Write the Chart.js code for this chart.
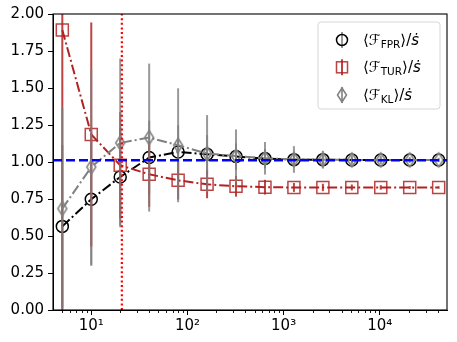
<!DOCTYPE html>
<html><head><meta charset="utf-8">
<script src="https://cdn.jsdelivr.net/npm/chart.js@4.4.0/dist/chart.umd.min.js"></script>
<style>html,body{margin:0;padding:0;background:#fff;} #wrap{width:457px;height:342px;}</style>
</head><body><div id="wrap"><canvas id="c" width="457" height="342"></canvas></div>
<script>
// ---- data ----
const xValues   = [5, 10, 20, 40, 80, 160, 320, 640, 1280, 2560, 5120, 10240, 20480, 40960];
const fprValues = [0.565, 0.748, 0.899, 1.030, 1.068, 1.052, 1.037, 1.023, 1.016, 1.016, 1.014, 1.014, 1.014, 1.014];
const fprErr    = [0.55, 0.45, 0.33, 0.25, 0.18, 0.13, 0.09, 0.065, 0.045, 0.032, 0.022, 0.016, 0.011, 0.008];
const turValues = [1.892, 1.186, 0.978, 0.917, 0.876, 0.849, 0.836, 0.830, 0.828, 0.828, 0.828, 0.828, 0.828, 0.828];
const turErr    = [1.90, 0.757, 0.36, 0.22, 0.13, 0.094, 0.07, 0.05, 0.03, 0.025, 0.02, 0.015, 0.01, 0.008];
const klValues  = [0.685, 0.966, 1.129, 1.165, 1.113, 1.057, 1.040, 1.025, 1.017, 1.016, 1.014, 1.014, 1.014, 1.014];
const klErr     = [0.68, 0.66, 0.57, 0.50, 0.385, 0.26, 0.18, 0.11, 0.09, 0.06, 0.04, 0.03, 0.02, 0.015];
const xMajorTicks  = [10, 100, 1000, 10000];
const xMajorLabels = ['10¹', '10²', '10³', '10⁴'];
const refLineY = 1.012;
const refLineX = 20.8;
const legendMain = ['⟨ℱ', '⟨ℱ', '⟨ℱ'];
const legendSub  = ['FPR', 'TUR', 'KL'];
const legendTail = ['⟩/', '⟩/', '⟩/'];
const legendRate = ['ṡ', 'ṡ', 'ṡ'];

// ---- styles ----
const FONT = 'DejaVu Sans';
const RED = '#b22222';
const GRAY = '#808080';

function makeThinDiamond(color) {
  const c = document.createElement('canvas');
  c.width = 14; c.height = 18;
  const g = c.getContext('2d');
  g.strokeStyle = color; g.lineWidth = 1.5;
  g.beginPath(); g.moveTo(7, 2); g.lineTo(11.5, 9); g.lineTo(7, 16); g.lineTo(2.5, 9); g.closePath(); g.stroke();
  return c;
}
const diamondImg = makeThinDiamond(GRAY);

const minorTicks = [];
for (let k = 0; k <= 4; k++) for (let m = 2; m <= 9; m++) { const v = m * Math.pow(10, k); if (v > 4 && v < 50000) minorTicks.push(v); }
const allXTicks = minorTicks.concat(xMajorTicks).sort((a, b) => a - b);

const pts = (vals) => xValues.map((x, i) => ({ x: x, y: vals[i] }));

const errPlugin = {
  id: 'errbars',
  beforeDatasetDraw(chart, args) {
    const ds = chart.data.datasets[args.index];
    if (!ds.errors) return;
    const ctx = chart.ctx, a = chart.chartArea, xs = chart.scales.x, ys = chart.scales.y;
    ctx.save();
    ctx.beginPath(); ctx.rect(a.left, a.top, a.right - a.left, a.bottom - a.top); ctx.clip();
    ctx.strokeStyle = ds.errColor; ctx.lineWidth = 2;
    ds.data.forEach((p, i) => {
      const px = xs.getPixelForValue(p.x), e = ds.errors[i];
      ctx.beginPath();
      ctx.moveTo(px, ys.getPixelForValue(p.y - e));
      ctx.lineTo(px, ys.getPixelForValue(p.y + e));
      ctx.stroke();
    });
    ctx.restore();
  }
};

const refPlugin = {
  id: 'reflines',
  afterDatasetsDraw(chart) {
    const ctx = chart.ctx, a = chart.chartArea, xs = chart.scales.x, ys = chart.scales.y;
    ctx.save();
    ctx.beginPath(); ctx.rect(a.left, a.top, a.right - a.left, a.bottom - a.top); ctx.clip();
    const py = ys.getPixelForValue(refLineY);
    ctx.strokeStyle = '#0000ff'; ctx.lineWidth = 2.5; ctx.setLineDash([9, 4]);
    ctx.beginPath(); ctx.moveTo(a.left, py); ctx.lineTo(a.right, py); ctx.stroke();
    const px = xs.getPixelForValue(refLineX);
    ctx.strokeStyle = '#ff0000'; ctx.lineWidth = 2.2; ctx.setLineDash([2, 2.6]);
    ctx.beginPath(); ctx.moveTo(px, a.bottom); ctx.lineTo(px, a.top); ctx.stroke();
    ctx.restore();
  }
};

const framePlugin = {
  id: 'frame',
  afterDraw(chart) {
    const ctx = chart.ctx, a = chart.chartArea, xs = chart.scales.x;
    ctx.save();
    ctx.strokeStyle = '#000'; ctx.lineWidth = 1.1;
    ctx.strokeRect(a.left, a.top, a.right - a.left, a.bottom - a.top);
    ctx.lineWidth = 0.9;
    minorTicks.forEach(v => {
      const px = Math.round(xs.getPixelForValue(v)) + 0.5;
      ctx.beginPath(); ctx.moveTo(px, a.bottom); ctx.lineTo(px, a.bottom + 3); ctx.stroke();
    });
    ctx.restore();
  }
};

const legendPlugin = {
  id: 'customLegend',
  afterDraw(chart) {
    const ctx = chart.ctx;
    const bx = 318, by = 22, bw = 122, bh = 87, r = 3;
    ctx.save();
    ctx.beginPath();
    ctx.moveTo(bx + r, by); ctx.lineTo(bx + bw - r, by); ctx.arcTo(bx + bw, by, bx + bw, by + r, r);
    ctx.lineTo(bx + bw, by + bh - r); ctx.arcTo(bx + bw, by + bh, bx + bw - r, by + bh, r);
    ctx.lineTo(bx + r, by + bh); ctx.arcTo(bx, by + bh, bx, by + bh - r, r);
    ctx.lineTo(bx, by + r); ctx.arcTo(bx, by, bx + r, by, r); ctx.closePath();
    ctx.fillStyle = 'rgba(255,255,255,0.8)'; ctx.fill();
    ctx.strokeStyle = '#d6d6d6'; ctx.lineWidth = 1; ctx.stroke();
    const rows = [40, 67.3, 95];
    const mx = 342;
    rows.forEach((ry, i) => {
      const ds = chart.data.datasets[i];
      ctx.setLineDash([]);
      ctx.strokeStyle = ds.errColor; ctx.lineWidth = 2;
      ctx.beginPath(); ctx.moveTo(mx, ry - 8); ctx.lineTo(mx, ry + 8); ctx.stroke();
      ctx.lineWidth = 1.5;
      if (i === 0) {
        ctx.strokeStyle = '#000'; ctx.beginPath(); ctx.arc(mx, ry, 5.5, 0, Math.PI * 2); ctx.stroke();
      } else if (i === 1) {
        ctx.strokeStyle = 'rgba(178,34,34,0.85)'; ctx.strokeRect(mx - 5.5, ry - 5.5, 11, 11);
      } else {
        ctx.drawImage(diamondImg, mx - 7, ry - 9);
      }
      let tx = 363; const base = ry + 5;
      ctx.fillStyle = '#000'; ctx.textBaseline = 'alphabetic'; ctx.textAlign = 'left';
      ctx.font = '15px "' + FONT + '"'; ctx.fillText(legendMain[i], tx, base); tx += ctx.measureText(legendMain[i]).width;
      ctx.font = '10.5px "' + FONT + '"'; ctx.fillText(legendSub[i], tx, base + 3); tx += ctx.measureText(legendSub[i]).width;
      ctx.font = '15px "' + FONT + '"'; ctx.fillText(legendTail[i], tx, base); tx += ctx.measureText(legendTail[i]).width;
      ctx.font = 'italic 15px "' + FONT + '"'; ctx.fillText(legendRate[i], tx, base);
    });
    ctx.restore();
  }
};

const commonDs = { showLine: true, tension: 0, borderWidth: 2, pointBackgroundColor: 'rgba(0,0,0,0)', pointBorderWidth: 1.5, fill: false };

new Chart(document.getElementById('c'), {
  type: 'line',
  data: {
    datasets: [
      Object.assign({}, commonDs, { label: 'FPR', data: pts(fprValues), errors: fprErr, errColor: 'rgba(128,128,128,0.8)',
        borderColor: '#000', borderDash: [10, 3, 2, 3], pointStyle: 'circle', pointRadius: 6, pointBorderColor: '#000', order: 3 }),
      Object.assign({}, commonDs, { label: 'TUR', data: pts(turValues), errors: turErr, errColor: 'rgba(178,34,34,0.85)',
        borderColor: RED, borderDash: [10, 3, 2, 3], pointStyle: 'rect', pointRadius: 8.5, pointBorderColor: 'rgba(178,34,34,0.85)', order: 2 }),
      Object.assign({}, commonDs, { label: 'KL', data: pts(klValues), errors: klErr, errColor: 'rgba(128,128,128,0.8)',
        borderColor: GRAY, borderDash: [10, 3, 2, 3], pointStyle: diamondImg, pointRadius: 7, pointBorderColor: GRAY, order: 1 })
    ]
  },
  options: {
    responsive: false, animation: false, devicePixelRatio: 1,
    layout: { padding: { top: 14, right: 9, left: 0, bottom: 0 } },
    plugins: { legend: { display: false }, tooltip: { enabled: false } },
    scales: {
      x: {
        type: 'logarithmic', min: 4, max: 50000,
        afterBuildTicks: (s) => { s.ticks = allXTicks.map(v => ({ value: v, major: xMajorTicks.includes(v) })); },
        afterFit: (s) => { s.height = 32; },
        ticks: { autoSkip: false, maxRotation: 0, minRotation: 0, padding: 2, color: '#000', font: { family: FONT, size: 15 },
          callback: (v) => { const i = xMajorTicks.indexOf(v); return i >= 0 ? xMajorLabels[i] : ''; } },
        grid: { drawOnChartArea: false, tickLength: 5, tickWidth: 1,
          tickColor: (c) => (c.tick && xMajorTicks.includes(c.tick.value)) ? '#000' : 'rgba(0,0,0,0)' },
        border: { color: '#000', width: 1 }
      },
      y: {
        min: 0, max: 2,
        afterFit: (s) => { s.width = 53; },
        ticks: { stepSize: 0.25, padding: 4, color: '#000', font: { family: FONT, size: 15 }, callback: (v) => v.toFixed(2) },
        grid: { drawOnChartArea: false, tickLength: 5, tickColor: '#000' },
        border: { color: '#000', width: 1 }
      }
    }
  },
  plugins: [errPlugin, refPlugin, framePlugin, legendPlugin]
});
</script></body></html>
